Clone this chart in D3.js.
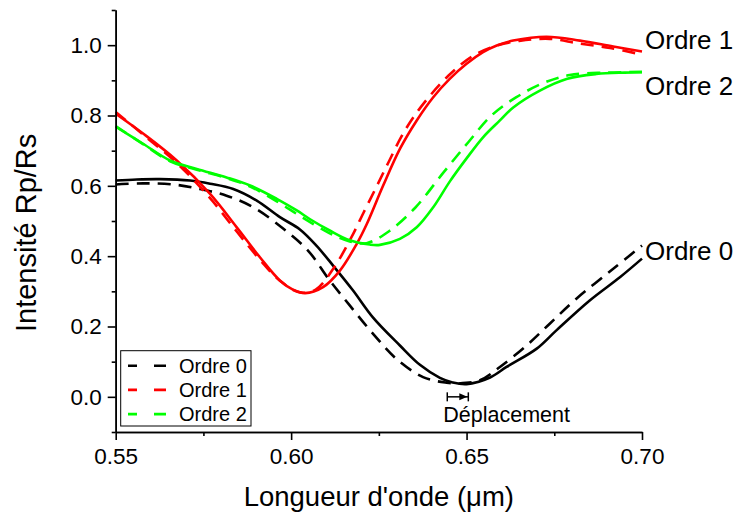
<!DOCTYPE html>
<html><head><meta charset="utf-8">
<script src="https://cdn.jsdelivr.net/npm/d3@7"></script>
<style>
html,body{margin:0;padding:0;background:#fff;}
text{font-family:"Liberation Sans",Arial,sans-serif;fill:#000;}
</style></head>
<body>
<svg id="chart" width="741" height="515"></svg>
<script>
// ---------- DATA ----------
const xTicksMajor = [0.55, 0.60, 0.65, 0.70];
const xTicksMinor = [0.575, 0.625, 0.675];
const yTicksMajor = [0.0, 0.2, 0.4, 0.6, 0.8, 1.0];
const yTicksMinor = [-0.1, 0.1, 0.3, 0.5, 0.7, 0.9, 1.1];
const seriesNames = ["Ordre 0", "Ordre 1", "Ordre 2"];
const seriesColors = ["#000000", "#ff0000", "#00ff00"];

// Ordre 0 (black)
const ordre0Solid = [
  [0.550,0.615],[0.556,0.618],[0.5626,0.619],[0.5712,0.615],[0.5769,0.606],[0.5835,0.591],
  [0.5902,0.558],[0.5968,0.511],[0.6025,0.476],[0.6072,0.430],[0.6119,0.374],[0.6176,0.303],
  [0.6233,0.226],[0.631,0.146],[0.6367,0.091],[0.6424,0.054],[0.646,0.041],[0.650,0.036],
  [0.6567,0.055],[0.6614,0.085],[0.670,0.137],[0.6756,0.189],[0.6851,0.274],[0.6937,0.340],
  [0.700,0.393]
];
const ordre0Dash = [
  [0.550,0.604],[0.5578,0.607],[0.5663,0.604],[0.574,0.591],[0.5816,0.572],[0.5892,0.539],
  [0.5978,0.478],[0.6048,0.416],[0.611,0.331],[0.6167,0.260],[0.6233,0.180],[0.630,0.108],
  [0.6376,0.056],[0.6443,0.040],[0.6475,0.038],[0.6538,0.047],[0.6595,0.085],[0.6671,0.146],
  [0.6737,0.208],[0.6813,0.279],[0.6918,0.364],[0.700,0.430]
];
// Ordre 1 (red)
const ordre1Solid = [
  [0.550,0.805],[0.5579,0.748],[0.5674,0.672],[0.5769,0.577],[0.5845,0.482],[0.5911,0.397],
  [0.5968,0.331],[0.6005,0.305],[0.604,0.295],[0.6091,0.312],[0.6139,0.359],[0.6187,0.435],
  [0.6215,0.490],[0.6262,0.600],[0.631,0.705],[0.6358,0.786],[0.6405,0.852],[0.6452,0.904],
  [0.650,0.947],[0.6547,0.980],[0.6586,0.999],[0.6633,1.013],[0.6728,1.024],[0.6823,1.013],
  [0.6918,0.996],[0.700,0.982]
];
const ordre1Dash = [
  [0.550,0.810],[0.5579,0.745],[0.5674,0.665],[0.5769,0.565],[0.5845,0.470],[0.5911,0.390],
  [0.5968,0.330],[0.6025,0.297],[0.607,0.305],[0.612,0.364],[0.6172,0.454],[0.6207,0.525],
  [0.6245,0.601],[0.6279,0.670],[0.6321,0.752],[0.6369,0.823],[0.6448,0.913],[0.6519,0.970],
  [0.6586,0.999],[0.665,1.012],[0.6737,1.018],[0.6818,1.005],[0.6909,0.992],[0.700,0.973]
];
// Ordre 2 (green)
const ordre2Solid = [
  [0.550,0.768],[0.5579,0.719],[0.5655,0.672],[0.5731,0.648],[0.5816,0.624],[0.5883,0.601],
  [0.5959,0.563],[0.6016,0.530],[0.6054,0.505],[0.611,0.473],[0.6167,0.445],[0.6224,0.433],
  [0.6253,0.432],[0.631,0.449],[0.6358,0.482],[0.6405,0.539],[0.6452,0.612],[0.650,0.678],
  [0.6547,0.738],[0.6595,0.786],[0.6633,0.823],[0.6709,0.871],[0.6785,0.904],[0.687,0.918],
  [0.695,0.922],[0.700,0.923]
];
const ordre2Dash = [
  [0.550,0.770],[0.5579,0.718],[0.5655,0.670],[0.5731,0.646],[0.5816,0.622],[0.5883,0.598],
  [0.5959,0.556],[0.6016,0.520],[0.6054,0.497],[0.611,0.465],[0.6167,0.442],[0.6215,0.437],
  [0.6279,0.471],[0.6353,0.537],[0.6435,0.639],[0.6505,0.724],[0.6571,0.800],[0.6642,0.852],
  [0.6718,0.892],[0.6794,0.915],[0.690,0.922],[0.700,0.924]
];
// Right-side curve labels: y anchor in data units
const endLabelsY = [0.415, 1.015, 0.884];
// "Déplacement" annotation (shift between minima)
const shiftX = [0.6445, 0.6505];
const shiftY = 0.0;
const shiftLabel = "Déplacement";

// ---------- CHART ----------
const svg = d3.select("#chart");
const x = d3.scaleLinear().domain([0.55, 0.70]).range([115.7, 642]);
const y = d3.scaleLinear().domain([-0.1, 1.1]).range([432, 10]);

const line = d3.line().x(d => x(d[0])).y(d => y(d[1])).curve(d3.curveCatmullRom.alpha(0.5));

const plot = svg.append("g");
const pairs = [[ordre0Solid, ordre0Dash],[ordre1Solid, ordre1Dash],[ordre2Solid, ordre2Dash]];
pairs.forEach((p, i) => {
  plot.append("path").attr("d", line(p[0])).attr("fill","none")
    .attr("stroke", seriesColors[i]).attr("stroke-width", 2.6);
  plot.append("path").attr("d", line(p[1])).attr("fill","none")
    .attr("stroke", seriesColors[i]).attr("stroke-width", 2.6)
    .attr("stroke-dasharray", "13,8");
});

// axes
const fs = 22.5;
const gx = svg.append("g").attr("transform", `translate(0,${y(-0.1)})`)
  .call(d3.axisBottom(x).tickValues(xTicksMajor).tickFormat(d3.format(".2f"))
        .tickSize(8).tickSizeOuter(0).tickPadding(8));
const gxm = svg.append("g").attr("transform", `translate(0,${y(-0.1)})`)
  .call(d3.axisBottom(x).tickValues(xTicksMinor).tickFormat("").tickSize(4).tickSizeOuter(0));
const gy = svg.append("g").attr("transform", `translate(${x(0.55)},0)`)
  .call(d3.axisLeft(y).tickValues(yTicksMajor).tickFormat(d3.format(".1f"))
        .tickSize(8).tickSizeOuter(0).tickPadding(6));
const gym = svg.append("g").attr("transform", `translate(${x(0.55)},0)`)
  .call(d3.axisLeft(y).tickValues(yTicksMinor).tickFormat("").tickSize(4).tickSizeOuter(0));
[gx, gxm, gy, gym].forEach(g => {
  g.selectAll("path,line").attr("stroke","#000").attr("stroke-width",1.6);
  g.selectAll("text").style("font-family","'Liberation Sans',Arial,sans-serif")
    .style("font-size", fs + "px").attr("fill","#000");
});

// axis titles
svg.append("text").attr("x", (x(0.55)+x(0.70))/2).attr("y", 506)
  .attr("text-anchor","middle").style("font-size","27.5px").text("Longueur d'onde (μm)");
svg.append("text").attr("transform", `translate(36,332) rotate(-90)`)
  .attr("text-anchor","start").style("font-size","29px").text("Intensité Rp/Rs");

// end labels
seriesNames.forEach((n, i) => {
  svg.append("text").attr("x", x(0.70) + 3).attr("y", y(endLabelsY[i]) + 9)
    .style("font-size","26px").text(n);
});

// legend
const lg = svg.append("g");
lg.append("rect").attr("x",120.7).attr("y",350.7).attr("width",130.3).attr("height",75.3)
  .attr("fill","#fff").attr("stroke","#000").attr("stroke-width",1);
seriesNames.forEach((n, i) => {
  const ly = 365.7 + i * 24.2;
  lg.append("line").attr("x1",128).attr("x2",166).attr("y1",ly).attr("y2",ly)
    .attr("stroke", seriesColors[i]).attr("stroke-width",2.6).attr("stroke-dasharray","9,17,12");
  lg.append("text").attr("x",179).attr("y",ly).attr("dy","0.35em")
    .style("font-size","20px").text(n);
});

// Déplacement annotation
const ay = y(shiftY), ax0 = x(shiftX[0]), ax1 = x(shiftX[1]);
const ann = svg.append("g").attr("stroke","#000").attr("stroke-width",1.5);
ann.append("line").attr("x1",ax0).attr("x2",ax1).attr("y1",ay).attr("y2",ay);
ann.append("line").attr("x1",ax0).attr("x2",ax0).attr("y1",ay-4.5).attr("y2",ay+4.5);
ann.append("line").attr("x1",ax1).attr("x2",ax1).attr("y1",ay-4.5).attr("y2",ay+4.5);
ann.append("path").attr("d",`M${ax1-1},${ay} L${ax1-9},${ay-3.5} L${ax1-9},${ay+3.5} Z`)
  .attr("fill","#000").attr("stroke","none");
svg.append("text").attr("x", ax0 - 4).attr("y", ay + 25).style("font-size","21.5px").text(shiftLabel);
</script>
</body></html>
